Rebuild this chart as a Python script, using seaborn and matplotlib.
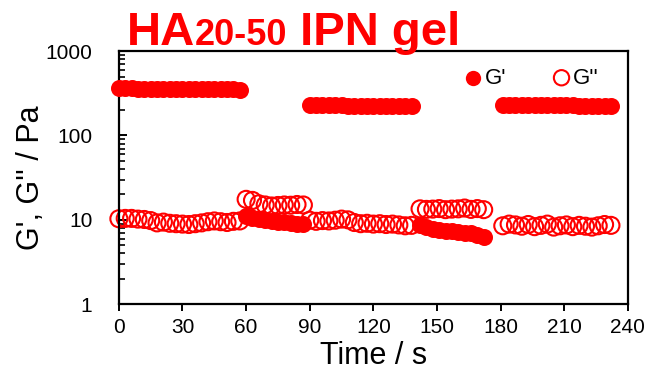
import numpy as np
import pandas as pd
import matplotlib
matplotlib.use("Agg")
import matplotlib.pyplot as plt
import seaborn as sns
from matplotlib.offsetbox import TextArea, HPacker, AnchoredOffsetbox

# time points (s) for the five steps
t1 = [0, 3, 6, 9, 12, 15, 18, 21, 24, 27, 30, 33, 36, 39, 42, 45, 48, 51, 54, 57]
t2 = [60, 63, 66, 69, 72, 75, 78, 81, 84, 87]
t3 = [90, 93, 96, 99, 102, 105, 108, 111, 114, 117, 120, 123, 126, 129, 132, 135, 138]
t4 = [142, 145, 148, 151, 154, 157, 160, 163, 166, 169, 172]
t5 = [181, 184, 187, 190, 193, 196, 199, 202, 205, 208, 211, 214, 217, 220, 223, 226, 229, 232]

# storage modulus G'
gp1 = [365, 362, 362, 360, 360, 358, 358, 357, 356, 356, 355, 355, 354, 354, 353, 353, 352, 352, 351, 350]
gp2 = [11.2, 10.6, 10.2, 9.9, 9.7, 9.5, 9.3, 9.2, 9.0, 8.9]
gp3 = [232, 230, 229, 228, 228, 227, 226, 226, 225, 225, 224, 224, 223, 223, 222, 222, 221]
gp4 = [8.8, 8.2, 7.8, 7.5, 7.4, 7.3, 7.2, 7.0, 6.9, 6.6, 6.3]
gp5 = [232, 231, 230, 230, 229, 229, 228, 228, 228, 227, 227, 227, 226, 226, 226, 225, 225, 225]

# loss modulus G''
gpp1 = [10.3, 10.4, 10.4, 10.2, 10.1, 9.8, 9.2, 9.4, 9.1, 9.0, 8.9, 8.8, 9.0, 9.2, 9.5, 9.7, 9.5, 9.3, 9.6, 9.7]
gpp2 = [17.5, 17.0, 15.5, 15.0, 14.6, 14.8, 15.0, 14.9, 15.2, 15.0]
gpp3 = [9.9, 9.6, 9.8, 9.7, 9.9, 10.2, 10.0, 9.3, 9.0, 9.1, 8.9, 9.0, 8.8, 8.9, 8.7, 8.5, 8.6]
gpp4 = [13.5, 13.3, 13.4, 13.6, 13.2, 13.4, 13.5, 13.8, 13.3, 13.6, 13.2]
gpp5 = [8.5, 8.9, 8.7, 8.4, 8.8, 8.3, 8.6, 8.9, 8.2, 8.5, 8.7, 8.3, 8.6, 8.4, 8.2, 8.5, 8.8, 8.6]

x_ticks = [0, 30, 60, 90, 120, 150, 180, 210, 240]
y_ticks = [1, 10, 100, 1000]

df = pd.DataFrame({
    "time": t1 + t2 + t3 + t4 + t5,
    "Gp": gp1 + gp2 + gp3 + gp4 + gp5,
    "Gpp": gpp1 + gpp2 + gpp3 + gpp4 + gpp5,
})

sns.set_style("white")
plt.rcParams["font.family"] = ["Liberation Sans", "DejaVu Sans"]
plt.rcParams["text.color"] = "black"
plt.rcParams["axes.labelcolor"] = "black"
plt.rcParams["xtick.color"] = "black"
plt.rcParams["ytick.color"] = "black"

fig = plt.figure(figsize=(6.46, 3.76), dpi=100)
ax = fig.add_axes([0.184, 0.191, 0.788, 0.673])

sns.scatterplot(data=df, x="time", y="Gpp", ax=ax, s=150, marker="o",
                color="red", facecolors="none", edgecolor="red",
                linewidth=1.5, label="G''", zorder=2, clip_on=False)
sns.scatterplot(data=df, x="time", y="Gp", ax=ax, s=150, marker="o",
                color="red", edgecolor="red", linewidth=0,
                label="G'", zorder=3, clip_on=False)

ax.set_yscale("log")
ax.set_xlim(0, 240)
ax.set_ylim(1, 1000)
ax.set_xticks(x_ticks)
ax.set_yticks(y_ticks)
ax.set_yticklabels([str(v) for v in y_ticks])
ax.set_xticklabels([str(v) for v in x_ticks])

for sp in ax.spines.values():
    sp.set_visible(True)
    sp.set_color("black")
    sp.set_linewidth(1.6)

ax.tick_params(axis="y", which="major", direction="in", length=6, width=1.4,
               labelsize=15, pad=19, left=True)
ax.tick_params(axis="y", which="minor", direction="in", length=4, width=1.2, left=True)
ax.tick_params(axis="x", which="major", direction="out", length=5, width=1.4,
               labelsize=15, pad=5, bottom=True)

ax.set_xlabel("Time / s", fontsize=22, labelpad=3)
ax.set_ylabel("G', G'' / Pa", fontsize=22, labelpad=0)

handles, labels = ax.get_legend_handles_labels()
order = [labels.index("G'"), labels.index("G''")]
leg = ax.legend([handles[i] for i in order], [labels[i] for i in order],
                ncol=2, loc="upper right", frameon=False, fontsize=16,
                handletextpad=-0.5, columnspacing=1.5, markerscale=0.9,
                borderpad=0, borderaxespad=0,
                bbox_to_anchor=(0.942, 0.935))

# title with smaller "20-50" on the same baseline
parts = [
    TextArea("HA", textprops=dict(color="red", fontsize=34, weight="bold")),
    TextArea("20-50", textprops=dict(color="red", fontsize=26, weight="bold")),
    TextArea(" IPN gel", textprops=dict(color="red", fontsize=34, weight="bold")),
]
title_box = HPacker(children=parts, align="baseline", pad=0, sep=0)
anchored = AnchoredOffsetbox(loc="lower left", child=title_box, pad=0, borderpad=0,
                             frameon=False, bbox_to_anchor=(0.196, 0.853),
                             bbox_transform=fig.transFigure)
anchored.set_zorder(10)
fig.add_artist(anchored)

fig.savefig("out.png", dpi=100)
